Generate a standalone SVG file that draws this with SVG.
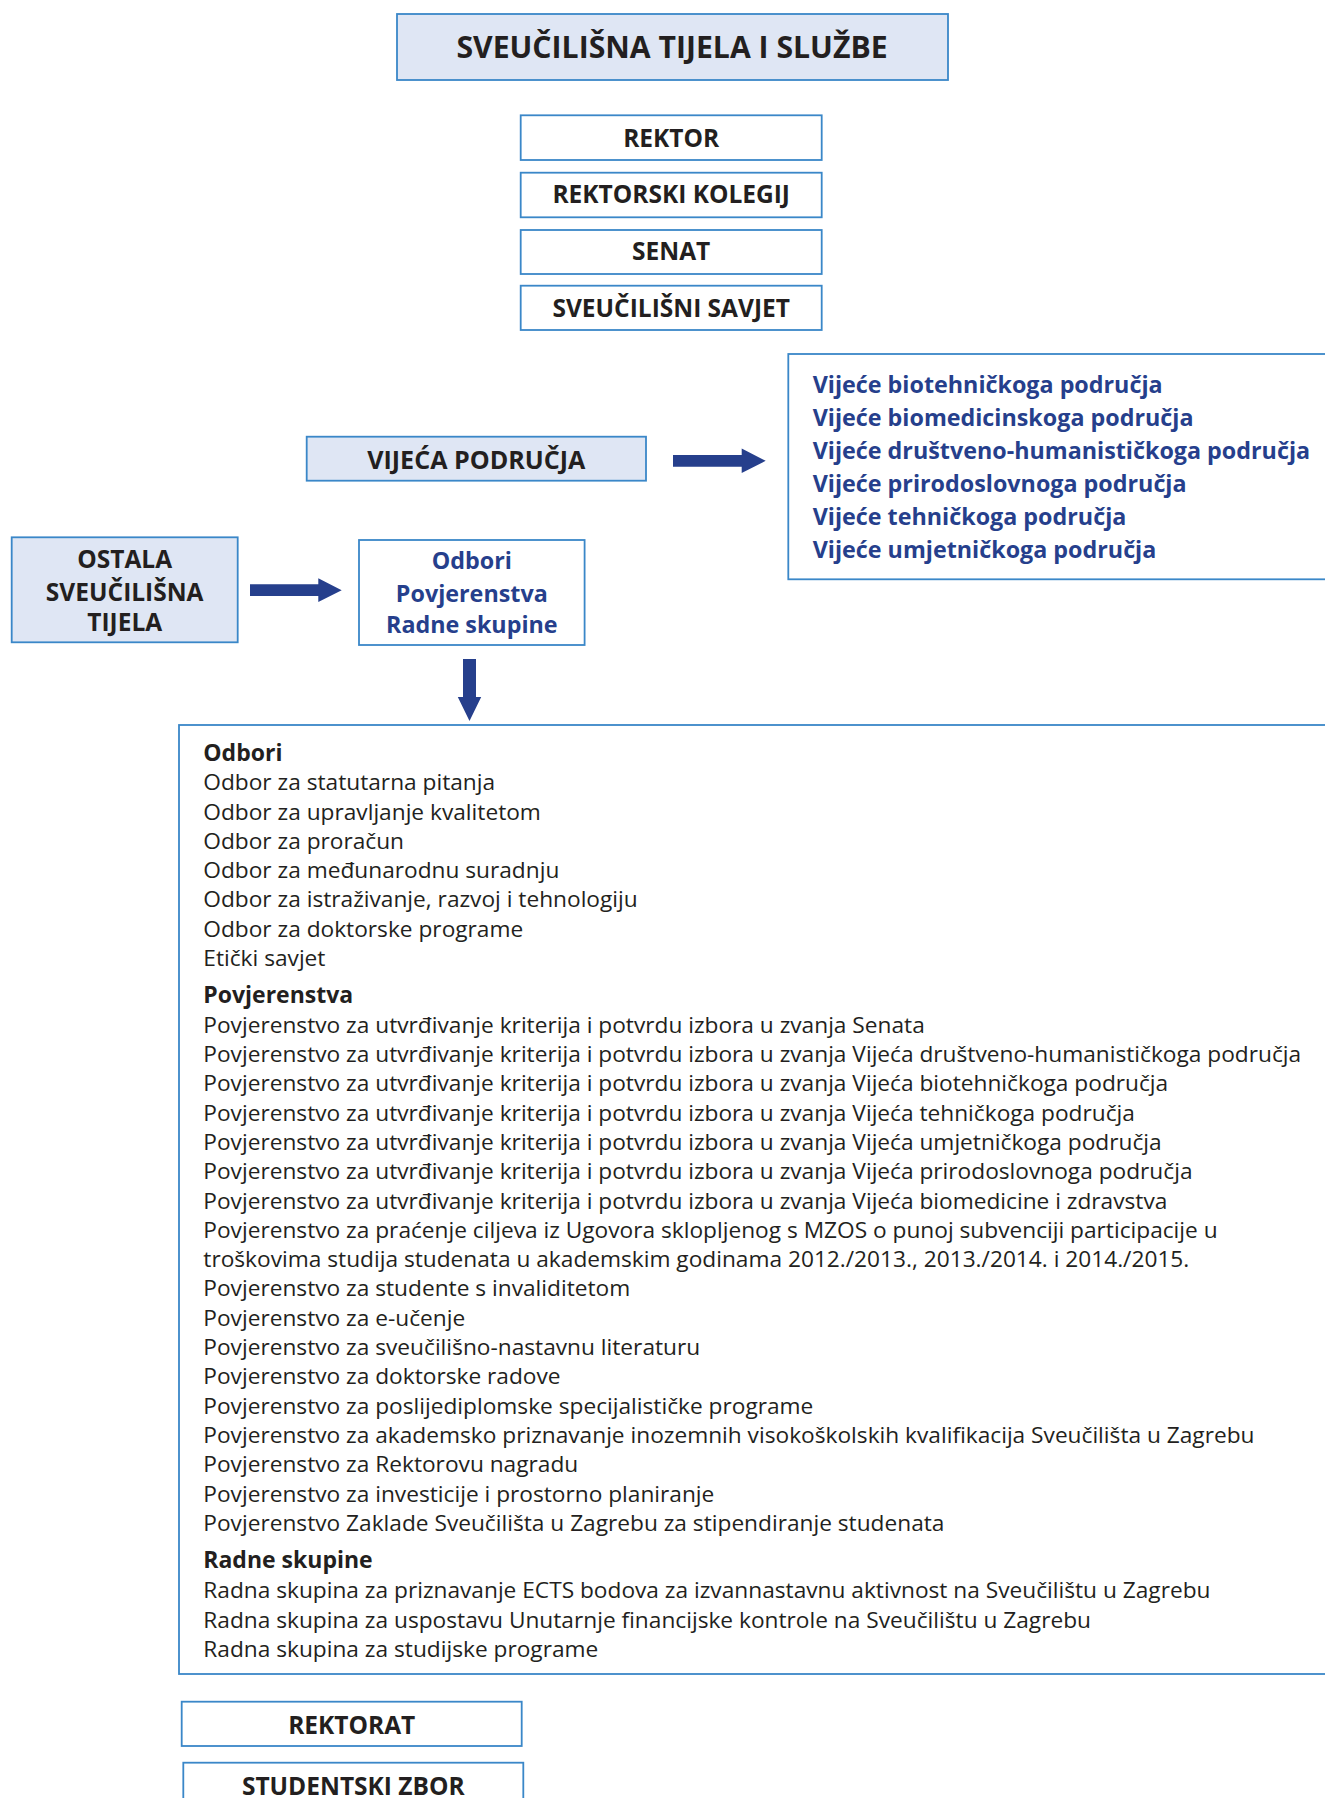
<svg xmlns="http://www.w3.org/2000/svg" width="1325" height="1798" viewBox="0 0 1325 1798">
<style>
.box{fill:#ffffff;stroke:#3a87c8;stroke-width:1.8}
.boxf{fill:#dfe6f4;stroke:#3a87c8;stroke-width:1.8}
.lbl{font-family:"Open Sans","Noto Sans",sans-serif;font-weight:700;font-size:24.5px;fill:#231f20;text-anchor:middle}
.title{font-family:"Open Sans","Noto Sans",sans-serif;font-weight:700;font-size:30.2px;fill:#231f20;text-anchor:middle}
.blue{font-family:"Open Sans","Noto Sans",sans-serif;font-weight:700;font-size:23.3px;fill:#263f8c}
.bluec{font-family:"Open Sans","Noto Sans",sans-serif;font-weight:700;font-size:23.3px;fill:#263f8c;text-anchor:middle}
.body{font-family:"Open Sans","Noto Sans",sans-serif;font-size:22.7px;fill:#231f20}
.head{font-family:"Open Sans","Noto Sans",sans-serif;font-weight:700;font-size:23px;fill:#231f20}
.arrow{fill:#263f8c}
</style>
<rect width="1325" height="1798" fill="#ffffff"/>
<g id="title">
<rect class="boxf" x="397" y="14" width="551" height="66"/>
<text class="title" x="672" y="58">SVEUČILIŠNA TIJELA I SLUŽBE</text>
</g>
<g id="rektor">
<rect class="box" x="520.7" y="115.3" width="301" height="44.7"/>
<text class="lbl" x="671.2" y="146.7">REKTOR</text>
</g>
<g id="rektorski-kolegij">
<rect class="box" x="520.7" y="172.7" width="301" height="44.6"/>
<text class="lbl" x="671.2" y="203.3">REKTORSKI KOLEGIJ</text>
</g>
<g id="senat">
<rect class="box" x="520.7" y="230" width="301" height="44"/>
<text class="lbl" x="671.2" y="260">SENAT</text>
</g>
<g id="sveucilisni-savjet">
<rect class="box" x="520.7" y="285.7" width="301" height="44.3"/>
<text class="lbl" x="671.2" y="316.7">SVEUČILIŠNI SAVJET</text>
</g>
<g id="vijeca-podrucja">
<rect class="boxf" x="306.7" y="436.7" width="339.3" height="44"/>
<text class="lbl" x="476.3" y="469.3" style="font-size:25.1px">VIJEĆA PODRUČJA</text>
</g>
<g id="vijeca-list">
<rect class="box" x="788.3" y="354" width="600" height="225.3"/>
<text class="blue" x="812.7" y="393.3">Vijeće biotehničkoga područja</text>
<text class="blue" x="812.7" y="426.3">Vijeće biomedicinskoga područja</text>
<text class="blue" x="812.7" y="459.3">Vijeće društveno-humanističkoga područja</text>
<text class="blue" x="812.7" y="492.3">Vijeće prirodoslovnoga područja</text>
<text class="blue" x="812.7" y="525.3">Vijeće tehničkoga područja</text>
<text class="blue" x="812.7" y="558.3">Vijeće umjetničkoga područja</text>
</g>
<g id="ostala-tijela">
<rect class="boxf" x="11.7" y="537.3" width="226" height="105"/>
<text class="lbl" x="124.7" y="568.3">OSTALA</text>
<text class="lbl" x="124.7" y="601.2">SVEUČILIŠNA</text>
<text class="lbl" x="124.7" y="630.5">TIJELA</text>
</g>
<g id="odbori-povjerenstva">
<rect class="box" x="359" y="540" width="225.6" height="105"/>
<text class="bluec" x="471.8" y="569">Odbori</text>
<text class="bluec" x="471.8" y="601.7">Povjerenstva</text>
<text class="bluec" x="471.8" y="633.3">Radne skupine</text>
</g>
<g id="popis">
<rect class="box" x="179" y="725" width="1200" height="949"/>
<text class="head" x="203.3" y="760.9">Odbori</text>
<text class="body" x="203.3" y="790.2">Odbor za statutarna pitanja</text>
<text class="body" x="203.3" y="819.5">Odbor za upravljanje kvalitetom</text>
<text class="body" x="203.3" y="848.8">Odbor za proračun</text>
<text class="body" x="203.3" y="878.1">Odbor za međunarodnu suradnju</text>
<text class="body" x="203.3" y="907.4">Odbor za istraživanje, razvoj i tehnologiju</text>
<text class="body" x="203.3" y="936.7">Odbor za doktorske programe</text>
<text class="body" x="203.3" y="966">Etički savjet</text>
<text class="head" x="203.3" y="1003.3">Povjerenstva</text>
<text class="body" x="203.3" y="1032.7">Povjerenstvo za utvrđivanje kriterija i potvrdu izbora u zvanja Senata</text>
<text class="body" x="203.3" y="1062">Povjerenstvo za utvrđivanje kriterija i potvrdu izbora u zvanja Vijeća društveno-humanističkoga područja</text>
<text class="body" x="203.3" y="1091.3">Povjerenstvo za utvrđivanje kriterija i potvrdu izbora u zvanja Vijeća biotehničkoga područja</text>
<text class="body" x="203.3" y="1120.6">Povjerenstvo za utvrđivanje kriterija i potvrdu izbora u zvanja Vijeća tehničkoga područja</text>
<text class="body" x="203.3" y="1149.9">Povjerenstvo za utvrđivanje kriterija i potvrdu izbora u zvanja Vijeća umjetničkoga područja</text>
<text class="body" x="203.3" y="1179.2">Povjerenstvo za utvrđivanje kriterija i potvrdu izbora u zvanja Vijeća prirodoslovnoga područja</text>
<text class="body" x="203.3" y="1208.5">Povjerenstvo za utvrđivanje kriterija i potvrdu izbora u zvanja Vijeća biomedicine i zdravstva</text>
<text class="body" x="203.3" y="1237.8">Povjerenstvo za praćenje ciljeva iz Ugovora sklopljenog s MZOS o punoj subvenciji participacije u</text>
<text class="body" x="203.3" y="1267.1">troškovima studija studenata u akademskim godinama 2012./2013., 2013./2014. i 2014./2015.</text>
<text class="body" x="203.3" y="1296.4">Povjerenstvo za studente s invaliditetom</text>
<text class="body" x="203.3" y="1325.7">Povjerenstvo za e-učenje</text>
<text class="body" x="203.3" y="1355">Povjerenstvo za sveučilišno-nastavnu literaturu</text>
<text class="body" x="203.3" y="1384.3">Povjerenstvo za doktorske radove</text>
<text class="body" x="203.3" y="1413.6">Povjerenstvo za poslijediplomske specijalističke programe</text>
<text class="body" x="203.3" y="1442.9">Povjerenstvo za akademsko priznavanje inozemnih visokoškolskih kvalifikacija Sveučilišta u Zagrebu</text>
<text class="body" x="203.3" y="1472.2">Povjerenstvo za Rektorovu nagradu</text>
<text class="body" x="203.3" y="1501.5">Povjerenstvo za investicije i prostorno planiranje</text>
<text class="body" x="203.3" y="1530.8">Povjerenstvo Zaklade Sveučilišta u Zagrebu za stipendiranje studenata</text>
<text class="head" x="203.3" y="1568.3">Radne skupine</text>
<text class="body" x="203.3" y="1598.3">Radna skupina za priznavanje ECTS bodova za izvannastavnu aktivnost na Sveučilištu u Zagrebu</text>
<text class="body" x="203.3" y="1627.6">Radna skupina za uspostavu Unutarnje financijske kontrole na Sveučilištu u Zagrebu</text>
<text class="body" x="203.3" y="1656.9">Radna skupina za studijske programe</text>
</g>
<g id="rektorat">
<rect class="box" x="181.7" y="1701.7" width="340" height="44.3"/>
<text class="lbl" x="351.7" y="1734.3">REKTORAT</text>
</g>
<g id="studentski-zbor">
<rect class="box" x="183.3" y="1762.7" width="340" height="44"/>
<text class="lbl" x="353.3" y="1794.5">STUDENTSKI ZBOR</text>
</g>
<g id="connectors">
<polygon class="arrow" points="673,455 741.7,455 741.7,448.5 765.7,460.8 741.7,473 741.7,466.7 673,466.7"/>
<polygon class="arrow" points="250,584.3 318.3,584.3 318.3,578.3 341.7,590.2 318.3,601.9 318.3,596 250,596"/>
<polygon class="arrow" points="463,659 476,659 476,697 481.2,697 469.5,721 457.8,697 463,697"/>
</g>
</svg>
